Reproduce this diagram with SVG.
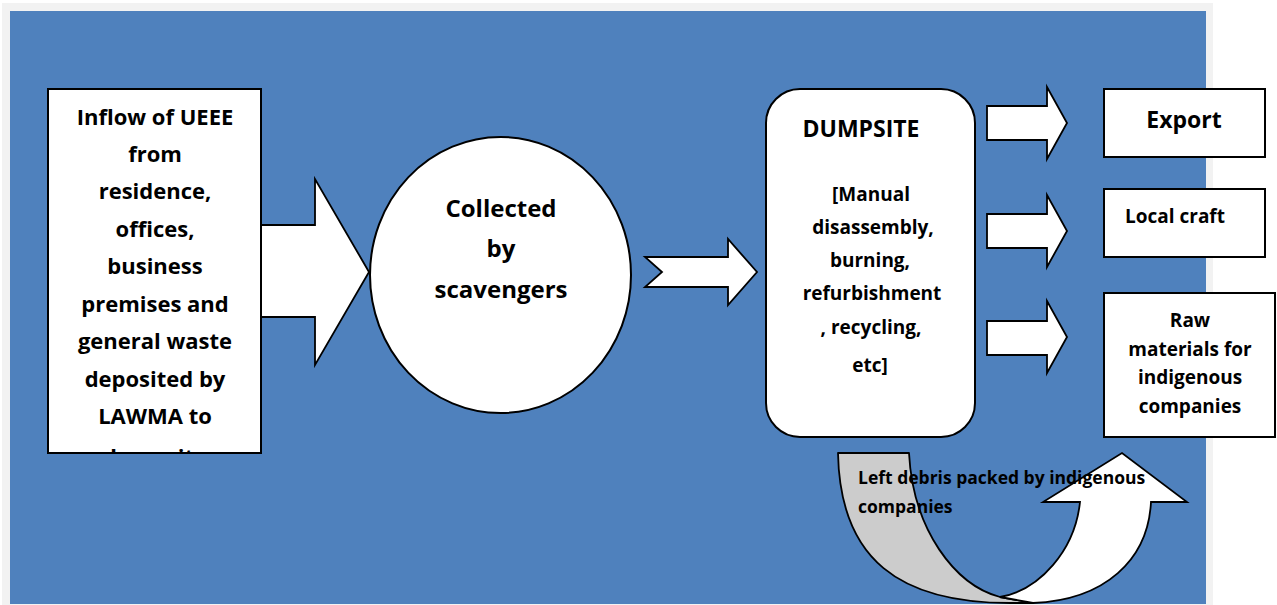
<svg xmlns="http://www.w3.org/2000/svg" width="1277" height="605" viewBox="0 0 1277 605">
  <defs>
    <style>
      .shape { fill: #ffffff; stroke: #000000; stroke-width: 2; }
      .arrow { fill: #ffffff; stroke: #000000; stroke-width: 1.8; stroke-linejoin: miter; }
      .t { font-family: "Open Sans", "Liberation Sans", sans-serif; font-weight: 700; fill: #000000; text-anchor: middle; }
      .tl { font-family: "Open Sans", "Liberation Sans", sans-serif; font-weight: 700; fill: #000000; }
    </style>
    <clipPath id="clipLeft">
      <rect x="49" y="90" width="211" height="362"/>
    </clipPath>
  </defs>

  <!-- page frame -->
  <rect x="0" y="0" width="1277" height="605" fill="#ffffff"/>
  <rect x="2" y="3" width="1211" height="602" fill="#f2f2f2"/>
  <rect x="10" y="11" width="1196" height="593" fill="#4f81bd"/>

  <!-- connectors -->
  <g id="connectors">
    <polygon class="arrow" points="250,225 315,225 315,179 369,272 315,365 315,317 250,317"/>
    <polygon class="arrow" points="645,257 728,257 728,239 757,272 728,305 728,287 645,287 662,272"/>
    <polygon class="arrow" points="987,106 1047,106 1047,87 1067,123 1047,159 1047,140 987,140"/>
    <polygon class="arrow" points="987,214 1047,214 1047,195 1067,231 1047,267 1047,248 987,248"/>
    <polygon class="arrow" points="987,321 1047,321 1047,301 1067,337 1047,373 1047,355 987,355"/>
    <g id="uturn">
      <path d="M838,453 L909,453 C913,530 955,585 1000,597 L1033,603 L1010,603 C900,603 840,560 838,453 Z" fill="#cccccc" stroke="#000000" stroke-width="1.8" stroke-linejoin="round"/>
      <path d="M1000,597 C1040,590 1075,550 1080,502 L1043,502 L1122,453 L1187,502 L1151,502 C1148,560 1105,600 1033,603 Z" fill="#ffffff" stroke="#000000" stroke-width="1.8" stroke-linejoin="miter"/>
    </g>
  </g>

  <g id="node-inflow">
    <rect class="shape" x="48" y="89" width="213" height="364"/>
    <g clip-path="url(#clipLeft)">
      <text class="t" font-size="22" x="155" y="125">Inflow of UEEE</text>
      <text class="t" font-size="22" x="155" y="162">from</text>
      <text class="t" font-size="22" x="155" y="199">residence,</text>
      <text class="t" font-size="22" x="155" y="237">offices,</text>
      <text class="t" font-size="22" x="155" y="274">business</text>
      <text class="t" font-size="22" x="155" y="312">premises and</text>
      <text class="t" font-size="22" x="155" y="349">general waste</text>
      <text class="t" font-size="22" x="155" y="387">deposited by</text>
      <text class="t" font-size="22" x="155" y="424">LAWMA to</text>
      <text class="t" font-size="22" x="155" y="465">dumpsite</text>
    </g>
  </g>

  <g id="node-collected">
    <ellipse class="shape" cx="500.5" cy="275" rx="130.5" ry="138"/>
    <text class="t" font-size="24" x="501" y="217">Collected</text>
    <text class="t" font-size="24" x="501" y="257">by</text>
    <text class="t" font-size="24" x="501" y="298">scavengers</text>
  </g>

  <g id="node-dumpsite">
    <rect class="shape" x="766" y="89" width="209" height="348" rx="34" ry="34"/>
    <text class="t" font-size="23" x="861" y="137">DUMPSITE</text>
    <text class="t" font-size="19" x="871" y="201">[Manual</text>
    <text class="t" font-size="19" x="873" y="234">disassembly,</text>
    <text class="t" font-size="19" x="870" y="267">burning,</text>
    <text class="t" font-size="19" x="872" y="300">refurbishment</text>
    <text class="t" font-size="19" x="871" y="334">, recycling,</text>
    <text class="t" font-size="19" x="870" y="372">etc]</text>
  </g>

  <g id="node-export">
    <rect class="shape" x="1104" y="89" width="161" height="68"/>
    <text class="t" font-size="23" x="1184" y="128">Export</text>
  </g>

  <g id="node-localcraft">
    <rect class="shape" x="1104" y="189" width="161" height="68"/>
    <text class="t" font-size="19" x="1175" y="223">Local craft</text>
  </g>

  <g id="node-raw">
    <rect class="shape" x="1104" y="293" width="171" height="144"/>
    <text class="t" font-size="19" x="1190" y="327">Raw</text>
    <text class="t" font-size="19" x="1190" y="356">materials for</text>
    <text class="t" font-size="19" x="1190" y="384">indigenous</text>
    <text class="t" font-size="19" x="1190" y="413">companies</text>
  </g>

  <g id="label-debris">
    <text class="tl" font-size="17.5" x="858" y="484">Left debris packed by indigenous</text>
    <text class="tl" font-size="17.5" x="858" y="513">companies</text>
  </g>
</svg>
